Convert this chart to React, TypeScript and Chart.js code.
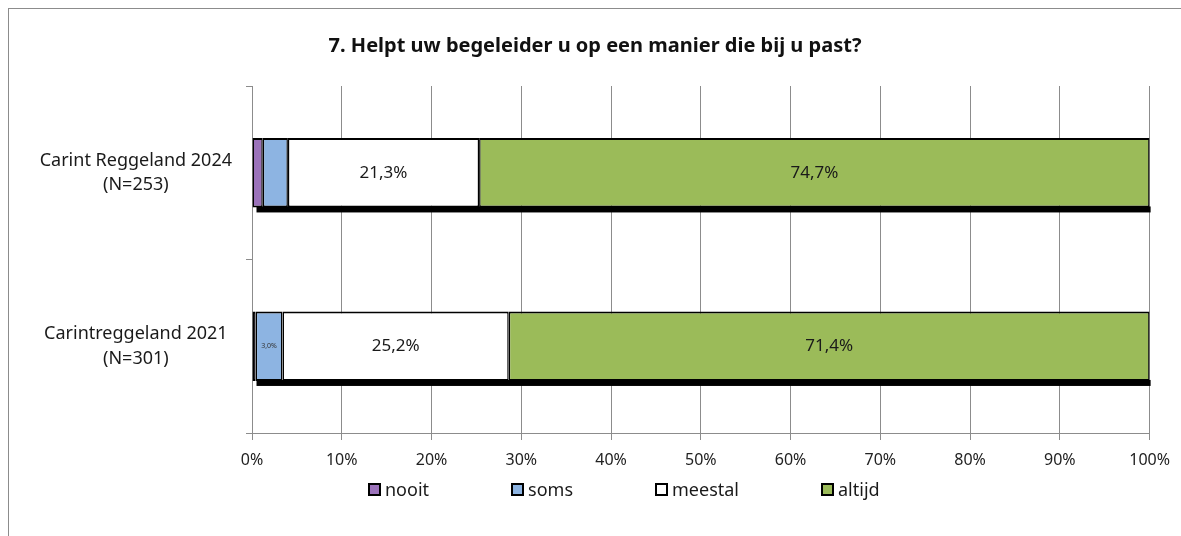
import React, { useEffect, useRef } from "react";
import { Chart, registerables } from "chart.js";

Chart.register(...registerables);

const categories: string[][] = [
  ["Carint Reggeland 2024", "(N=253)"],
  ["Carintreggeland 2021", "(N=301)"],
];
const seriesNames = ["nooit", "soms", "meestal", "altijd"];
const nooit = [1.2, 0.4];
const soms = [2.8, 3.0];
const meestal = [21.3, 25.2];
const altijd = [74.7, 71.4];
const labelShown = [
  [false, false],
  [false, true],
  [true, true],
  [true, true],
];
const xTicks = [0, 10, 20, 30, 40, 50, 60, 70, 80, 90, 100];
const title = "7. Helpt uw begeleider u op een manier die bij u past?";

const colors = ["#9B72BA", "#8DB4E2", "#FFFFFF", "#9BBB59"];
const FONT = "'Noto Sans', sans-serif";

const shadowPlugin = {
  id: "barShadow",
  beforeDatasetsDraw(chart: any) {
    const ctx = chart.ctx;
    const n = chart.data.datasets.length;
    const first = chart.getDatasetMeta(0).data;
    const last = chart.getDatasetMeta(n - 1).data;
    ctx.save();
    ctx.fillStyle = "#000";
    first.forEach((el: any, i: number) => {
      const l = Math.min(el.x, el.base);
      const r = Math.max(last[i].x, last[i].base);
      const bottom = el.y + el.height / 2;
      ctx.fillRect(l + 4, bottom - 1, r - l - 3, 6);
    });
    ctx.restore();
  },
};

const labelPlugin = {
  id: "segLabels",
  afterDatasetsDraw(chart: any) {
    const ctx = chart.ctx;
    ctx.save();
    ctx.textAlign = "center";
    ctx.textBaseline = "middle";
    chart.data.datasets.forEach((ds: any, d: number) => {
      chart.getDatasetMeta(d).data.forEach((el: any, i: number) => {
        if (!labelShown[d][i]) return;
        const w = Math.abs(el.x - el.base);
        const size = w < 40 ? 7 : 17;
        ctx.font = `${size}px ${FONT}`;
        ctx.fillStyle = w < 40 ? "#333" : "#1a1a1a";
        const txt = ds.data[i].toFixed(1).replace(".", ",") + "%";
        ctx.fillText(txt, (el.x + el.base) / 2, el.y);
      });
    });
    ctx.restore();
  },
};

export default function App() {
  const ref = useRef<HTMLCanvasElement>(null);
  useEffect(() => {
    document.documentElement.style.overflow = "hidden";
    if (!ref.current) return;
    const data = [nooit, soms, meestal, altijd];
    const chart = new Chart(ref.current, {
      type: "bar",
      data: {
        labels: categories,
        datasets: data.map((vals, k) => ({
          label: seriesNames[k],
          data: vals,
          backgroundColor: colors[k],
          borderColor: "#000",
          borderWidth: { top: 2, bottom: 2, left: 1.5, right: 1.5 },
          borderSkipped: false,
          categoryPercentage: 1,
          barPercentage: 0.4,
        })),
      },
      options: {
        indexAxis: "y",
        animation: false,
        responsive: true,
        maintainAspectRatio: false,
        layout: { padding: { top: 20, right: 31, bottom: 52, left: 31 } },
        plugins: {
          legend: { display: false },
          tooltip: { enabled: false },
          title: {
            display: true,
            text: title,
            color: "#111",
            font: { family: FONT, size: 20, weight: "bold", lineHeight: 1.2 },
            padding: { top: 5, bottom: 28 },
          },
        },
        scales: {
          x: {
            stacked: true,
            min: 0,
            max: 100,
            afterBuildTicks: (s: any) => {
              s.ticks = xTicks.map((v) => ({ value: v }));
            },
            ticks: {
              callback: (v: any) => v + "%",
              color: "#222",
              font: { family: FONT, size: 16 },
              padding: 11,
              maxRotation: 0,
            },
            grid: { color: "#8c8c8c", tickLength: 7, lineWidth: 1 },
            border: { color: "#8c8c8c" },
            afterFit: (s: any) => {
              s.height = 43;
            },
          },
          y: {
            stacked: true,
            offset: true,
            ticks: {
              color: "#1a1a1a",
              font: { family: FONT, size: 18, lineHeight: 1.35 },
              crossAlign: "center",
              padding: 14,
            },
            grid: {
              offset: true,
              drawOnChartArea: false,
              color: "#8c8c8c",
              tickLength: 6,
            },
            border: { color: "#8c8c8c" },
            afterFit: (s: any) => {
              s.width = 212;
            },
          },
        },
      },
      plugins: [shadowPlugin, labelPlugin],
    });
    return () => chart.destroy();
  }, []);

  return (
    <>
      <div
        style={{
          position: "fixed",
          left: 8,
          top: 8,
          right: -20,
          bottom: -20,
          borderLeft: "1px solid #8c8c8c",
          borderTop: "1px solid #8c8c8c",
          pointerEvents: "none",
        }}
      />
      <div style={{ position: "relative", marginLeft: 1, marginTop: 1 }}>
        <div style={{ position: "relative", width: 1172, height: 519 }}>
          <canvas ref={ref} />
        </div>
        <div
          style={{
            position: "absolute",
            left: 359,
            top: 468,
            display: "flex",
            gap: 82,
            fontFamily: FONT,
            fontSize: 18,
            color: "#1a1a1a",
            alignItems: "center",
          }}
        >
          {seriesNames.map((n, k) => (
            <div key={n} style={{ display: "flex", alignItems: "center" }}>
              <span
                style={{
                  display: "inline-block",
                  width: 9,
                  height: 9,
                  border: "2px solid #000",
                  background: colors[k],
                  marginRight: 4,
                }}
              />
              <span>{n}</span>
            </div>
          ))}
        </div>
      </div>
    </>
  );
}
